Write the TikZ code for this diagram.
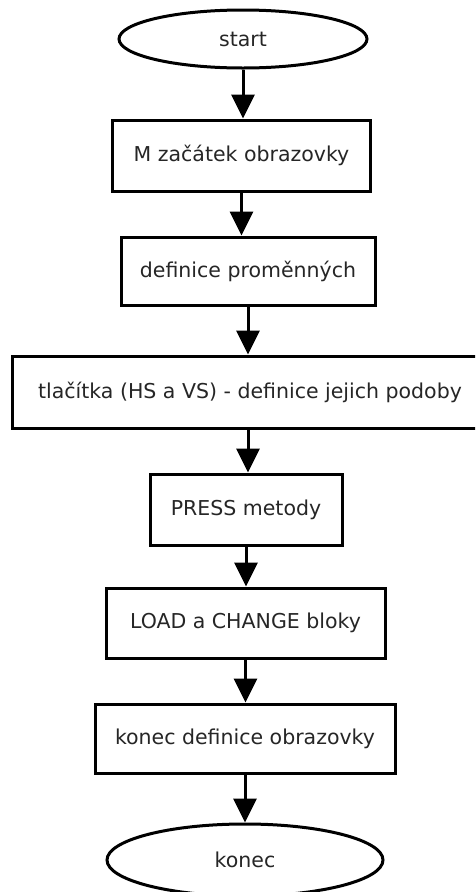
\documentclass[tikz,border=0pt]{standalone}
\usepackage{fontspec}
\setmainfont{DejaVu Sans}
\usetikzlibrary{shapes.geometric,arrows.meta}
\begin{document}
\begin{tikzpicture}[x=1pt,y=-1pt,
  every node/.style={font=\fontsize{20.5}{23}\selectfont, text=black!85, inner sep=0pt},
  stepbox/.style={draw, line width=3pt, rectangle},
  terminal/.style={draw, line width=3pt, ellipse},
  arr/.style={line width=3pt, -{Triangle[length=24pt,width=23pt]}}]
  \useasboundingbox (0,0) rectangle (475,892);
  \clip (0,0) rectangle (475,892);
  \fill[white] (0,0) rectangle (475,892);

  \node[terminal, minimum width=248pt, minimum height=58pt] (start) at (243,39) {start};
  \node[stepbox, minimum width=258pt, minimum height=71pt] (b1) at (241.5,155.5) {M začátek obrazovky};
  \node[stepbox, minimum width=254pt, minimum height=68pt] (b2) at (248,271) {definice proměnných};
  \node[stepbox, minimum width=476pt, minimum height=72pt] (b3) at (250,392) {tlačítka (HS a VS) - definice jejich podoby};
  \node[stepbox, minimum width=192pt, minimum height=71pt] (b4) at (246,509.5) {PRESS metody};
  \node[stepbox, minimum width=279pt, minimum height=70pt] (b5) at (245.5,623) {LOAD a CHANGE bloky};
  \node[stepbox, minimum width=300pt, minimum height=69pt] (b6) at (245,738.5) {konec definice obrazovky};
  \node[terminal, minimum width=276pt, minimum height=72pt] (end) at (245,860) {konec};

  \draw[arr] (start.south) -- (start.south |- b1.north);
  \draw[arr] (b1.south) -- (b1.south |- b2.north);
  \draw[arr] (b2.south) -- (b2.south |- b3.north);
  \draw[arr] (b3.south -| b2.south) -- (b2.south |- b4.north);
  \draw[arr] (b4.south) -- (b4.south |- b5.north);
  \draw[arr] (b5.south) -- (b5.south |- b6.north);
  \draw[arr] (b6.south) -- (b6.south |- end.north);
\end{tikzpicture}
\end{document}
